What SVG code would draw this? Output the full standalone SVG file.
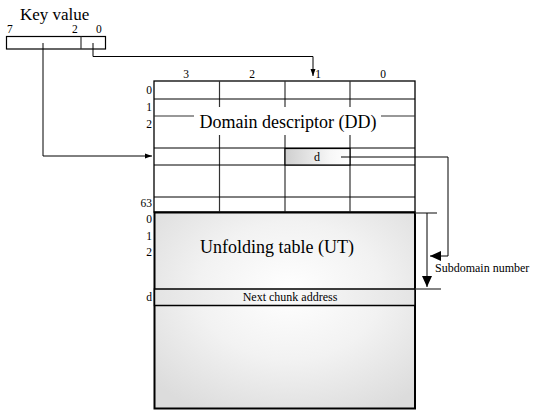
<svg xmlns="http://www.w3.org/2000/svg" width="535" height="412" viewBox="0 0 535 412" font-family="Liberation Serif, DejaVu Serif, serif">
<style>
text{font-family:"Liberation Serif","DejaVu Serif",serif;fill:#000}
.s{font-size:12px}
.m{font-size:11.5px}
.g{stroke:#000;stroke-width:1;fill:none}
.gr{stroke:#333;stroke-width:1.2;fill:none}
.c{stroke:#000;stroke-width:1;fill:none}
</style>
<defs>
<marker id="ah" markerWidth="8" markerHeight="8" refX="7" refY="4" orient="auto" markerUnits="userSpaceOnUse">
<path d="M0,1.5 L7,4 L0,6.5 Z" fill="#000"/>
</marker>
<marker id="ahb" markerWidth="12" markerHeight="12" refX="11" refY="5" orient="auto" markerUnits="userSpaceOnUse">
<path d="M0,0 L11,5 L0,10 Z" fill="#000"/>
</marker>
<linearGradient id="dg" x1="0" y1="0" x2="1" y2="0">
<stop offset="0" stop-color="#cfcfcf"/>
<stop offset="0.7" stop-color="#f7f7f7"/>
<stop offset="1" stop-color="#ffffff"/>
</linearGradient>
<linearGradient id="ng" x1="0" y1="0" x2="1" y2="0">
<stop offset="0" stop-color="#e4e4e4"/>
<stop offset="0.5" stop-color="#fafafa"/>
<stop offset="1" stop-color="#e4e4e4"/>
</linearGradient>
<radialGradient id="ug" cx="0.52" cy="0.4" r="0.7">
<stop offset="0" stop-color="#ffffff"/>
<stop offset="0.5" stop-color="#f2f2f2"/>
<stop offset="1" stop-color="#dcdcdc"/>
</radialGradient>
</defs>

<g id="key">
<text x="20" y="20" style="font-size:17px">Key value</text>
<text x="7" y="33" class="m">7</text>
<text x="72" y="33" class="m">2</text>
<text x="96" y="33" class="m">0</text>
<rect x="6.5" y="36.5" width="99" height="12.5" fill="#fff" stroke="#000" stroke-width="1.2"/>
<line x1="81" y1="36.5" x2="81" y2="49" class="gr"/>
</g>

<g id="dd">
<rect x="154" y="81" width="261" height="131" fill="#fff" stroke="#000" stroke-width="1.3"/>
<line x1="219.5" y1="81" x2="219.5" y2="212" class="gr"/>
<line x1="285" y1="81" x2="285" y2="212" class="gr"/>
<line x1="350" y1="81" x2="350" y2="212" class="gr"/>
<line x1="154" y1="99" x2="415" y2="99" class="g"/>
<line x1="154" y1="116" x2="415" y2="116" class="gr"/>
<line x1="154" y1="148" x2="415" y2="148" class="g"/>
<line x1="154" y1="165" x2="415" y2="165" class="g"/>
<line x1="154" y1="197" x2="415" y2="197" class="g"/>
<rect x="194" y="107" width="187" height="28" fill="#fff"/>
<text x="288" y="128" text-anchor="middle" style="font-size:18px">Domain descriptor (DD)</text>
<text x="186" y="78" text-anchor="middle" class="m">3</text>
<text x="252" y="78" text-anchor="middle" class="m">2</text>
<text x="318" y="78" text-anchor="middle" class="m">1</text>
<text x="383" y="78" text-anchor="middle" class="m">0</text>
<text x="152" y="94" text-anchor="end" class="m">0</text>
<text x="152" y="111" text-anchor="end" class="m">1</text>
<text x="152" y="128" text-anchor="end" class="m">2</text>
<text x="152" y="207" text-anchor="end" class="m">63</text>
</g>

<g id="dcell">
<rect x="285" y="148.5" width="65" height="16.5" fill="url(#dg)" stroke="#000" stroke-width="1.2"/>
<text x="317" y="161" text-anchor="middle" class="s">d</text>
</g>

<g id="ut">
<rect x="154.5" y="212.5" width="260.5" height="196" fill="url(#ug)" stroke="#000" stroke-width="2"/>
<text x="200" y="253" style="font-size:18px">Unfolding table (UT)</text>
<text x="152" y="223" text-anchor="end" class="m">0</text>
<text x="152" y="240" text-anchor="end" class="m">1</text>
<text x="152" y="256" text-anchor="end" class="m">2</text>
</g>

<g id="nca">
<rect x="154.5" y="289" width="260.5" height="16.5" fill="url(#ng)" stroke="#000" stroke-width="1.5"/>
<text x="290" y="301" text-anchor="middle" class="s">Next chunk address</text>
<text x="152" y="301" text-anchor="end" class="m">d</text>
</g>

<g id="sub">
<line x1="415" y1="213" x2="437" y2="213" class="gr"/>
<line x1="415" y1="289" x2="441" y2="289" class="gr"/>
<text x="435" y="272" style="font-size:12px">Subdomain number</text>
</g>

<g id="connectors">
<path d="M93,43 V56.5 H313 V76" class="c" marker-end="url(#ah)"/>
<path d="M43,43 V156 H152" class="c" marker-end="url(#ah)"/>
<path d="M341,157 H448 V256 H430" class="c" stroke-width="1.2" marker-end="url(#ahb)"/>
<path d="M427,213 V287" class="c" stroke-width="1.2" marker-end="url(#ahb)"/>
</g>
</svg>
